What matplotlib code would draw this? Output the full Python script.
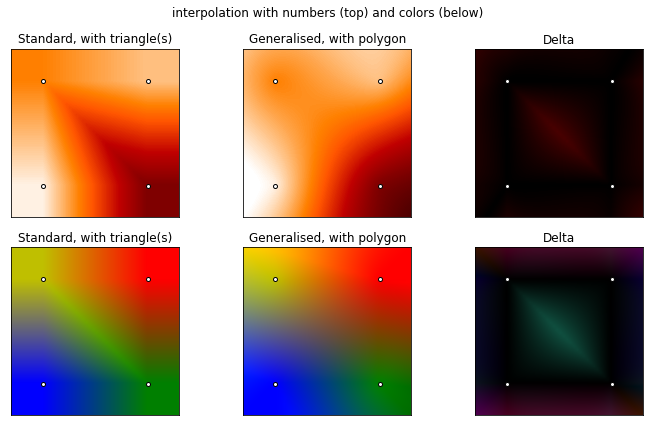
import numpy as np
import matplotlib
matplotlib.use("Agg")
import matplotlib.pyplot as plt

# corners in polygon order: bottom-left, bottom-right, top-right, top-left
corner_x = [0.0, 1.0, 1.0, 0.0]
corner_y = [0.0, 0.0, 1.0, 1.0]
corner_num = [0.03, 0.667, 0.125, 0.25]
corner_rgb = [[0.0, 0.0, 1.0], [0.0, 0.5, 0.0], [1.0, 0.0, 0.0], [0.75, 0.75, 0.0]]
titles = ["Standard, with triangle(s)", "Generalised, with polygon", "Delta"]
N = 50

vx, vy = np.array(corner_x), np.array(corner_y)


def weights_triangles(x, y):
    # clamp to the square, then plain barycentric on the two triangles
    x, y = np.clip(x, 0, 1), np.clip(y, 0, 1)
    low = x + y < 1
    w = np.zeros((4,) + x.shape)
    w[0] = np.where(low, 1 - x - y, 0)
    w[1] = np.where(low, x, 1 - y)
    w[2] = np.where(low, 0, x + y - 1)
    w[3] = np.where(low, y, 1 - x)
    return w


def weights_polygon(x, y):
    # mean value coordinates, signed angles so they carry on outside
    dx = vx[:, None, None] - x
    dy = vy[:, None, None] - y
    r = np.hypot(dx, dy)
    nx, ny = np.roll(dx, -1, 0), np.roll(dy, -1, 0)
    nr = np.roll(r, -1, 0)
    tan_half = (dx * ny - dy * nx) / (r * nr + dx * nx + dy * ny + 1e-12)
    w = (tan_half + np.roll(tan_half, 1, 0)) / (r + 1e-12)
    return w / w.sum(axis=0)


xs = np.linspace(-0.3, 1.3, N)
X, Y = np.meshgrid(xs + 1e-4, xs + 1e-4)
w_tri = weights_triangles(X, Y)
w_pol = weights_polygon(X, Y)

num = np.array(corner_num)
rgb = np.array(corner_rgb)
num_tri = np.tensordot(num, w_tri, axes=(0, 0))
num_pol = np.tensordot(num, w_pol, axes=(0, 0))
rgb_tri = np.tensordot(rgb.T, w_tri, axes=(1, 0)).transpose(1, 2, 0)
rgb_pol = np.tensordot(rgb.T, w_pol, axes=(1, 0)).transpose(1, 2, 0)
# delta is taken before clipping, overshoot shows up in the corners
rgb_delta = np.clip(np.abs(rgb_tri - rgb_pol), 0, 1)

fig = plt.figure(figsize=(650 / 72, 426 / 72), dpi=72, facecolor="white")
fig.text(0.5035, 0.969, "interpolation with numbers (top) and colors (below)",
         ha="center", va="center", fontsize=12)

lefts = [11.0, 243.3, 475.3]
tops = [49.0, 247.4]
size = 168.0
ext = (-0.3, 1.3, -0.3, 1.3)

row_imgs = [
    [(num_tri, "gist_heat_r", 0, 1), (num_pol, "gist_heat_r", 0, 1),
     (np.abs(num_tri - num_pol), "gist_heat", 0, 1)],
    [(np.clip(rgb_tri, 0, 1), None, None, None), (np.clip(rgb_pol, 0, 1), None, None, None),
     (rgb_delta, None, None, None)],
]

for r, top in enumerate(tops):
    for c, left in enumerate(lefts):
        ax = fig.add_axes([left / 650, 1 - (top + size) / 426, size / 650, size / 426])
        img, cmap, lo, hi = row_imgs[r][c]
        ax.imshow(img, origin="lower", extent=ext, cmap=cmap, vmin=lo, vmax=hi,
                  interpolation="bilinear", aspect="auto")
        ax.scatter(corner_x, corner_y, s=16, c="white", edgecolors="black",
                   linewidths=1.0, zorder=3)
        ax.set_xlim(-0.3, 1.3)
        ax.set_ylim(-0.3, 1.3)
        ax.set_xticks([])
        ax.set_yticks([])
        ax.set_title(titles[c], fontsize=12, pad=5.5)

fig.savefig("out.png", dpi=72)
